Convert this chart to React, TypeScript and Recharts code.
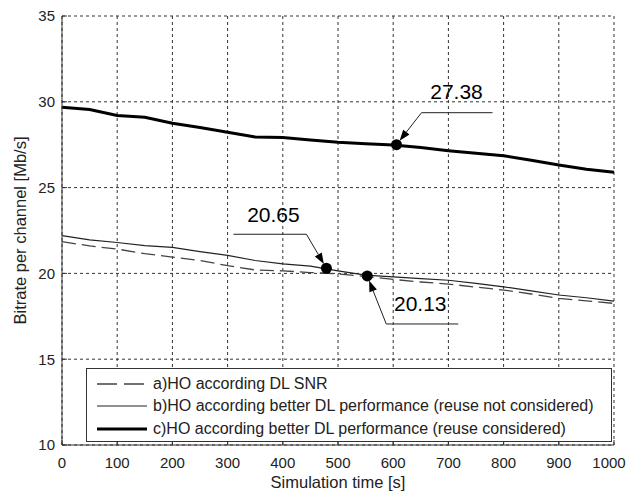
import {
  LineChart,
  Line,
  XAxis,
  YAxis,
  CartesianGrid,
  Legend,
  ReferenceDot,
} from "recharts";

// simulation time [s]
const times = [0, 50, 100, 150, 200, 250, 300, 350, 400, 450, 500, 550, 600, 650, 700, 750, 800, 850, 900, 950, 1000];

// a) HO according DL SNR
const seriesA = [21.85, 21.6, 21.42, 21.15, 20.95, 20.75, 20.45, 20.2, 20.15, 20.05, 19.97, 19.82, 19.65, 19.5, 19.38, 19.2, 19.03, 18.8, 18.54, 18.4, 18.25];
// b) better DL performance (reuse not considered)
const seriesB = [22.2, 21.95, 21.8, 21.62, 21.52, 21.27, 21.05, 20.75, 20.56, 20.42, 20.15, 19.9, 19.8, 19.7, 19.6, 19.42, 19.22, 18.98, 18.74, 18.58, 18.38];
// c) better DL performance (reuse considered)
const seriesC = [29.68, 29.55, 29.2, 29.1, 28.75, 28.5, 28.22, 27.95, 27.92, 27.78, 27.64, 27.55, 27.48, 27.33, 27.15, 27.0, 26.85, 26.6, 26.32, 26.07, 25.89];

const legendNames = [
  "a)HO according DL SNR",
  "b)HO according better DL performance (reuse not considered)",
  "c)HO according better DL performance (reuse considered)",
];

const xTicks = [0, 100, 200, 300, 400, 500, 600, 700, 800, 900, 1000];
const yTicks = [10, 15, 20, 25, 30, 35];

// annotated points: x, y where the dot sits, text shown
const markerX = [606, 479, 553];
const markerY = [27.5, 20.3, 19.85];
const markerText = ["27.38", "20.65", "20.13"];

const data = times.map((t, i) => ({ t, a: seriesA[i], b: seriesB[i], c: seriesC[i] }));

const font = "'Liberation Sans', Arial, sans-serif";

// leader layout for each callout, relative to the dot
const callouts = [
  { lineY: -32, x0: 25, x1: 96, elbow: 25, textX: 60, textY: -46 },
  { lineY: -34, x0: -93, x1: -20, elbow: -20, textX: -53, textY: -46 },
  { lineY: 48, x0: 19, x1: 91, elbow: 19, textX: 53, textY: 35 },
];

function Callout(props: any, idx: number) {
  const { cx, cy } = props;
  const c = callouts[idx];
  const sx = cx + c.elbow;
  const sy = cy + c.lineY;
  const dx = cx - sx;
  const dy = cy - sy;
  const len = Math.sqrt(dx * dx + dy * dy);
  const ux = dx / len;
  const uy = dy / len;
  const tipX = cx - ux * 5;
  const tipY = cy - uy * 5;
  const baseX = tipX - ux * 11;
  const baseY = tipY - uy * 11;
  const px = -uy * 4;
  const py = ux * 4;
  return (
    <g>
      <line x1={cx + c.x0} y1={sy} x2={cx + c.x1} y2={sy} stroke="#222" strokeWidth={1} />
      <line x1={sx} y1={sy} x2={baseX} y2={baseY} stroke="#222" strokeWidth={1} />
      <polygon
        points={`${tipX},${tipY} ${baseX + px},${baseY + py} ${baseX - px},${baseY - py}`}
        fill="#000"
      />
      <circle cx={cx} cy={cy} r={5.5} fill="#000" />
      <text x={cx + c.textX} y={cy + c.textY} textAnchor="middle" fontSize={21} fontFamily={font} fill="#000">
        {markerText[idx]}
      </text>
    </g>
  );
}

function XTick({ x, y, payload }: any) {
  // last label sits against the right edge of the picture
  const shift = payload.value === xTicks[xTicks.length - 1] ? -4 : 0;
  return (
    <text x={x + shift} y={y} dy="0.71em" textAnchor="middle" fontSize={15} fontFamily={font} fill="#222">
      {payload.value}
    </text>
  );
}

const legendStyles = [
  { stroke: "#444", width: 1.3, dash: "20 7" },
  { stroke: "#222", width: 1.2, dash: undefined },
  { stroke: "#000", width: 3, dash: undefined },
];

function LegendBox() {
  return (
    <div
      style={{
        width: 526,
        height: 74,
        boxSizing: "border-box",
        border: "1px solid #333",
        background: "#fff",
        paddingTop: 4,
        fontFamily: font,
        fontSize: 16,
        color: "#222",
      }}
    >
      {legendNames.map((name, i) => (
        <div key={name} style={{ display: "flex", alignItems: "center", height: 22.3, whiteSpace: "nowrap" }}>
          <svg width={66} height={10} style={{ flex: "none" }}>
            <line
              x1={10}
              y1={5}
              x2={60}
              y2={5}
              stroke={legendStyles[i].stroke}
              strokeWidth={legendStyles[i].width}
              strokeDasharray={legendStyles[i].dash}
            />
          </svg>
          <span>{name}</span>
        </div>
      ))}
    </div>
  );
}

export default function App() {
  return (
    <div style={{ position: "absolute", left: 0, top: 0, background: "#fff" }}>
      <LineChart
        width={629}
        height={494}
        data={data}
        margin={{ top: 16, right: 15, left: 0, bottom: 0 }}
        style={{ fontFamily: font }}
      >
        <CartesianGrid stroke="#333" strokeDasharray="3 3" strokeWidth={1} />
        <XAxis
          dataKey="t"
          type="number"
          domain={[0, 1000]}
          ticks={xTicks}
          height={49}
          tickSize={-5}
          tickMargin={17}
          stroke="#333"
          tick={<XTick />}
          label={{ value: "Simulation time [s]", position: "insideBottom", offset: 6, fill: "#222", fontSize: 16.5 }}
        />
        <YAxis
          type="number"
          domain={[10, 35]}
          ticks={yTicks}
          width={62}
          tickSize={-5}
          tickMargin={12}
          stroke="#333"
          tick={{ fill: "#222", fontSize: 15 }}
          label={{
            value: "Bitrate per channel [Mb/s]",
            angle: -90,
            position: "insideLeft",
            offset: 20,
            fill: "#222",
            fontSize: 16.5,
            style: { textAnchor: "middle" },
          }}
        />
        <Line dataKey="a" stroke="#444" strokeWidth={1.3} strokeDasharray="14 6" dot={false} isAnimationActive={false} />
        <Line dataKey="b" stroke="#222" strokeWidth={1.2} dot={false} isAnimationActive={false} />
        <Line dataKey="c" stroke="#000" strokeWidth={3} dot={false} isAnimationActive={false} />
        {markerX.map((x, i) => (
          <ReferenceDot key={i} x={x} y={markerY[i]} r={5} shape={(p: any) => Callout(p, i)} />
        ))}
        <Legend
          layout="vertical"
          align="center"
          verticalAlign="middle"
          content={() => <LegendBox />}
          wrapperStyle={{ left: 86, top: 368, width: 526, height: 74 }}
        />
      </LineChart>
    </div>
  );
}
